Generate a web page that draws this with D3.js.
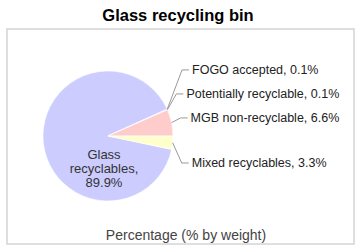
<!DOCTYPE html>
<html>
<head>
<meta charset="utf-8">
<script src="https://cdn.jsdelivr.net/npm/d3@7"></script>
<style>
  body { margin: 0; background: #fff; }
  text { font-family: "Liberation Sans", Arial, sans-serif; }
</style>
</head>
<body>
<div id="chart"></div>
<script>
// data, clockwise from the glass slice
const categories = [
  "Glass recyclables",
  "FOGO accepted",
  "Potentially recyclable",
  "MGB non-recyclable",
  "Mixed recyclables",
];
const values = [89.9, 0.1, 0.1, 6.6, 3.3];
const sliceColors = ["#ccccff", "#d9b3ff", "#c0e0c0", "#ffcccc", "#ffffcc"];
const chartTitle = "Glass recycling bin";
const axisTitle = "Percentage (% by weight)";

const width = 364;
const height = 249;
const cx = 108;
const cy = 136;
const radius = 65;

const svg = d3
  .select("#chart")
  .append("svg")
  .attr("width", width)
  .attr("height", height);

// frame
svg
  .append("rect")
  .attr("x", 7)
  .attr("y", 29)
  .attr("width", 347)
  .attr("height", 215)
  .attr("fill", "none")
  .attr("stroke", "#d4d4d4")
  .attr("stroke-width", 1.5);

svg
  .append("text")
  .attr("x", 178)
  .attr("y", 21)
  .attr("text-anchor", "middle")
  .attr("font-size", 16.5)
  .attr("font-weight", "bold")
  .attr("fill", "#000")
  .text(chartTitle);

svg
  .append("text")
  .attr("x", 186)
  .attr("y", 240)
  .attr("text-anchor", "middle")
  .attr("font-size", 14)
  .attr("fill", "#444")
  .text(axisTitle);

const rows = categories.map((c, i) => ({ name: c, value: values[i], color: sliceColors[i] }));

// glass slice ends so that the MGB slice closes at 3 o'clock
const total = d3.sum(values);
const beforeMixed = d3.sum(values.slice(0, 4));
const start = Math.PI / 2 - (beforeMixed / total) * 2 * Math.PI;

const pie = d3
  .pie()
  .sort(null)
  .value((d) => d.value)
  .startAngle(start)
  .endAngle(start + 2 * Math.PI);

const arcs = pie(rows);
const arc = d3.arc().innerRadius(0).outerRadius(radius);

const g = svg.append("g").attr("transform", `translate(${cx},${cy})`);

g.selectAll("path")
  .data(arcs)
  .join("path")
  .attr("d", arc)
  .attr("fill", (d) => d.data.color)
  .attr("stroke", "#fff")
  .attr("stroke-width", 0.6);

// inside label for the big slice
const big = arcs[0];
const bigLines = [big.data.name.split(" ")[0], big.data.name.split(" ")[1] + ",", big.data.value + "%"];
const bigText = g
  .append("text")
  .attr("text-anchor", "middle")
  .attr("font-size", 13)
  .attr("fill", "#333");
bigLines.forEach((t, i) => {
  bigText
    .append("tspan")
    .attr("x", -4)
    .attr("y", 23 + i * 14)
    .text(t);
});

// outside labels with leader lines
const outside = arcs.slice(1).map((a) => {
  const mid = (a.startAngle + a.endAngle) / 2;
  return {
    a,
    sx: Math.sin(mid) * radius,
    sy: -Math.cos(mid) * radius,
    ideal: -Math.cos(mid) * radius * 1.35,
    mid,
  };
});

// stack upper labels upward from the lowest one, lower ones downward
const gap = 24;
const upper = outside.filter((d) => d.mid < Math.PI / 2).sort((a, b) => b.ideal - a.ideal);
upper.forEach((d, i) => {
  d.ly = i === 0 ? d.ideal : Math.min(d.ideal, upper[i - 1].ly - gap);
});
const lower = outside.filter((d) => d.mid >= Math.PI / 2).sort((a, b) => a.ideal - b.ideal);
lower.forEach((d, i) => {
  d.ly = i === 0 ? Math.max(d.ideal, 27) : Math.max(d.ideal, lower[i - 1].ly + gap);
});

outside.forEach((d) => {
  const ex = d.sx + Math.max(Math.abs(d.ly - d.sy) * 0.3, 6) + 3;
  const hx = ex + 7;
  g.append("path")
    .attr("d", `M${d.sx},${d.sy}L${ex},${d.ly}L${hx},${d.ly}`)
    .attr("fill", "none")
    .attr("stroke", "#999")
    .attr("stroke-width", 1);
  g.append("text")
    .attr("x", hx + 3)
    .attr("y", d.ly)
    .attr("dy", "0.35em")
    .attr("font-size", 12.5)
    .attr("fill", "#222")
    .text(`${d.a.data.name}, ${d.a.data.value}%`);
});
</script>
</body>
</html>
